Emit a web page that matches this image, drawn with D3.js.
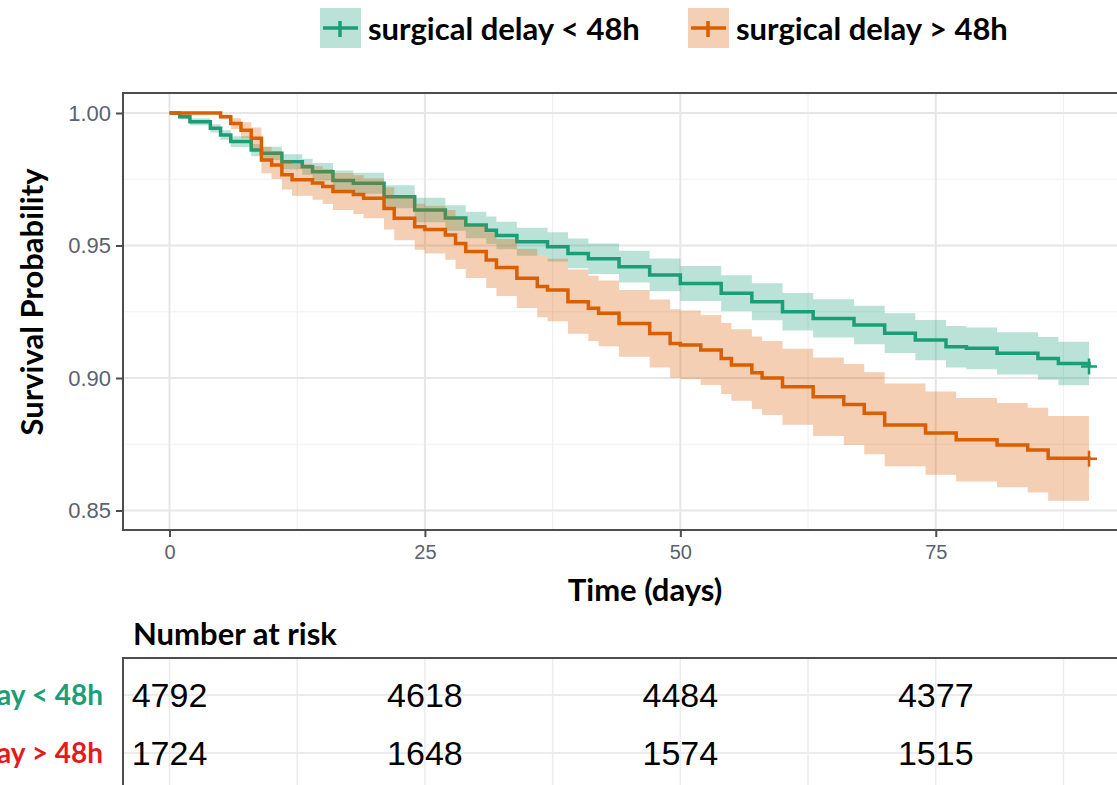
<!DOCTYPE html>
<html>
<head>
<meta charset="utf-8">
<script src="https://cdn.jsdelivr.net/npm/d3@7"></script>
<style>
  body { margin: 0; background: #fff; }
  svg { display: block; }
</style>
</head>
<body>
<svg id="chart" width="1117" height="785"></svg>
<script>
// Groups and colours
const groups = ["surgical delay < 48h", "surgical delay > 48h"];
const lineColors = ["#1b9e77", "#d95f02"];
const riskLabelColors = ["#1b9e77", "#e41a1c"];

// Kaplan-Meier estimate, surgical delay < 48h
const gTime = [0, 1, 2, 4, 5, 6, 8, 9, 11, 13, 14, 16, 18, 21, 24, 27, 29, 31, 32, 34, 37, 39, 41, 44, 47, 50, 54, 57, 60, 63, 67, 70, 73, 76, 78, 81, 85, 87, 90];
const gSurv = [1.000, 0.9986, 0.9967, 0.9942, 0.9917, 0.9892, 0.9860, 0.9848, 0.9816, 0.9797, 0.9778, 0.9745, 0.9735, 0.9684, 0.9634, 0.9604, 0.9577, 0.9558, 0.9538, 0.9514, 0.9495, 0.9470, 0.9450, 0.9420, 0.9389, 0.9357, 0.9320, 0.9288, 0.9250, 0.9225, 0.9200, 0.9169, 0.9143, 0.9118, 0.9112, 0.9093, 0.9074, 0.9055, 0.9043];
const gUpper = [1.000, 0.9996, 0.9980, 0.9958, 0.9935, 0.9912, 0.9883, 0.9873, 0.9844, 0.9827, 0.9811, 0.9783, 0.9775, 0.9727, 0.9680, 0.9652, 0.9627, 0.9609, 0.9590, 0.9567, 0.9550, 0.9526, 0.9508, 0.9480, 0.9451, 0.9423, 0.9388, 0.9358, 0.9321, 0.9297, 0.9273, 0.9244, 0.9219, 0.9196, 0.9191, 0.9173, 0.9155, 0.9137, 0.9126];
const gLower = [1.000, 0.9976, 0.9954, 0.9926, 0.9899, 0.9872, 0.9837, 0.9823, 0.9788, 0.9767, 0.9745, 0.9707, 0.9695, 0.9641, 0.9588, 0.9556, 0.9527, 0.9507, 0.9486, 0.9461, 0.9440, 0.9414, 0.9392, 0.9360, 0.9327, 0.9291, 0.9252, 0.9218, 0.9179, 0.9153, 0.9127, 0.9094, 0.9067, 0.9040, 0.9033, 0.9013, 0.8993, 0.8973, 0.8960];

// Kaplan-Meier estimate, surgical delay > 48h
const oTime = [0, 5, 6, 7, 8, 9, 10, 11, 12, 14, 15, 16, 18, 19, 21, 22, 24, 25, 27, 28, 29, 31, 32, 34, 36, 37, 39, 41, 42, 44, 47, 49, 50, 52, 54, 55, 57, 58, 60, 63, 66, 68, 70, 74, 77, 81, 84, 86, 90];
const oSurv = [1.000, 0.9986, 0.9960, 0.9935, 0.9905, 0.9823, 0.9804, 0.9767, 0.9748, 0.9736, 0.9723, 0.9704, 0.9692, 0.9678, 0.9640, 0.9603, 0.9571, 0.9560, 0.9540, 0.9508, 0.9477, 0.9445, 0.9417, 0.9376, 0.9345, 0.9332, 0.9288, 0.9263, 0.9244, 0.9206, 0.9168, 0.9130, 0.9125, 0.9106, 0.9074, 0.9049, 0.9020, 0.9000, 0.8967, 0.8929, 0.8900, 0.8867, 0.8823, 0.8792, 0.8767, 0.8747, 0.8728, 0.8697, 0.8695];
const oUpper = [1.000, 0.9994, 0.9980, 0.9965, 0.9945, 0.9873, 0.9857, 0.9823, 0.9808, 0.9799, 0.9789, 0.9774, 0.9765, 0.9753, 0.9720, 0.9686, 0.9658, 0.9650, 0.9634, 0.9605, 0.9577, 0.9550, 0.9525, 0.9488, 0.9461, 0.9450, 0.9409, 0.9386, 0.9368, 0.9332, 0.9296, 0.9259, 0.9255, 0.9238, 0.9208, 0.9184, 0.9157, 0.9140, 0.9110, 0.9077, 0.9053, 0.9022, 0.8979, 0.8949, 0.8925, 0.8906, 0.8888, 0.8857, 0.8855];
const oLower = [1.000, 0.9978, 0.9940, 0.9905, 0.9865, 0.9773, 0.9751, 0.9711, 0.9688, 0.9673, 0.9657, 0.9634, 0.9619, 0.9603, 0.9560, 0.9520, 0.9484, 0.9470, 0.9446, 0.9411, 0.9377, 0.9340, 0.9309, 0.9264, 0.9229, 0.9214, 0.9167, 0.9140, 0.9120, 0.9080, 0.9040, 0.9001, 0.8995, 0.8974, 0.8940, 0.8914, 0.8883, 0.8860, 0.8824, 0.8781, 0.8747, 0.8712, 0.8667, 0.8635, 0.8609, 0.8588, 0.8568, 0.8537, 0.8535];

// Axes and risk table
const xTicks = [0, 25, 50, 75];
const xMinor = [12.5, 37.5, 62.5, 87.5];
const yTicks = [0.85, 0.90, 0.95, 1.00];
const yMinor = [0.875, 0.925, 0.975];
const riskTimes = [0, 25, 50, 75];
const riskLow = [4792, 4618, 4484, 4377];
const riskHigh = [1724, 1648, 1574, 1515];

const labelFont = "Lato, 'Open Sans', sans-serif";
const tickFont = "'Liberation Sans', Arial, sans-serif";

const svg = d3.select("#chart");

// Panel geometry
const panel = { left: 123, top: 93, right: 1140, bottom: 530 };
const x = d3.scaleLinear().domain([-4.5, 94.5]).range([123.5, 1135]);
const y = d3.scaleLinear().domain([0.85, 1.0]).range([510.5, 113]);

svg.append("defs").append("clipPath").attr("id", "panel-clip")
  .append("rect")
  .attr("x", panel.left).attr("y", panel.top)
  .attr("width", panel.right - panel.left).attr("height", panel.bottom - panel.top);

// Gridlines
const grid = svg.append("g");
grid.selectAll("line.xminor").data(xMinor).join("line")
  .attr("x1", d => x(d)).attr("x2", d => x(d))
  .attr("y1", panel.top).attr("y2", panel.bottom)
  .attr("stroke", "#f0f0f0").attr("stroke-width", 1.2);
grid.selectAll("line.yminor").data(yMinor).join("line")
  .attr("y1", d => y(d)).attr("y2", d => y(d))
  .attr("x1", panel.left).attr("x2", panel.right)
  .attr("stroke", "#f0f0f0").attr("stroke-width", 1.2);
grid.selectAll("line.xmajor").data(xTicks).join("line")
  .attr("x1", d => x(d)).attr("x2", d => x(d))
  .attr("y1", panel.top).attr("y2", panel.bottom)
  .attr("stroke", "#e6e6e6").attr("stroke-width", 2);
grid.selectAll("line.ymajor").data(yTicks).join("line")
  .attr("y1", d => y(d)).attr("y2", d => y(d))
  .attr("x1", panel.left).attr("x2", panel.right)
  .attr("stroke", "#e6e6e6").attr("stroke-width", 2);

// Curves: ribbon then step line for each group
const series = [
  { time: gTime, surv: gSurv, upper: gUpper, lower: gLower },
  { time: oTime, surv: oSurv, upper: oUpper, lower: oLower }
];

const area = d3.area()
  .curve(d3.curveStepAfter)
  .x(d => x(d.t))
  .y0(d => y(d.lo))
  .y1(d => y(d.hi));

const line = d3.line()
  .curve(d3.curveStepAfter)
  .x(d => x(d.t))
  .y(d => y(d.s));

const plot = svg.append("g").attr("clip-path", "url(#panel-clip)");

series.forEach((s, i) => {
  const pts = s.time.map((t, k) => ({ t: t, s: s.surv[k], hi: s.upper[k], lo: s.lower[k] }));
  plot.append("path").datum(pts)
    .attr("d", area)
    .attr("fill", lineColors[i])
    .attr("fill-opacity", 0.3);
  plot.append("path").datum(pts)
    .attr("d", line)
    .attr("fill", "none")
    .attr("stroke", lineColors[i])
    .attr("stroke-width", 3.5);
  // censor mark at the end of follow-up
  const last = pts[pts.length - 1];
  const cx = x(last.t), cy = y(last.s);
  plot.append("path")
    .attr("d", `M${cx - 8},${cy}H${cx + 8}M${cx},${cy - 8}V${cy + 8}`)
    .attr("stroke", lineColors[i])
    .attr("stroke-width", 2.5);
});

// Panel border
svg.append("path")
  .attr("d", `M${panel.right},${panel.top}H${panel.left}V${panel.bottom}H${panel.right}`)
  .attr("fill", "none")
  .attr("stroke", "#4d4d4d")
  .attr("stroke-width", 2);

// Axes
const yAxis = svg.append("g")
  .attr("transform", `translate(${panel.left},0)`)
  .call(d3.axisLeft(y).tickValues(yTicks).tickFormat(d3.format(".2f")).tickSize(7).tickPadding(5));
const xAxis = svg.append("g")
  .attr("transform", `translate(0,${panel.bottom})`)
  .call(d3.axisBottom(x).tickValues(xTicks).tickSize(7).tickPadding(8));

[yAxis, xAxis].forEach(ax => {
  ax.select(".domain").remove();
  ax.selectAll(".tick line").attr("stroke", "#4d4d4d").attr("stroke-width", 2);
  ax.selectAll(".tick text")
    .attr("fill", "#5a6170")
    .style("font-family", tickFont);
});
yAxis.selectAll(".tick text").style("font-size", "22px");
xAxis.selectAll(".tick text").style("font-size", "20px");

// Axis titles
svg.append("text")
  .attr("transform", "translate(43,302) rotate(-90)")
  .attr("text-anchor", "middle")
  .style("font-family", labelFont)
  .style("font-weight", 700)
  .style("font-size", "31px")
  .attr("fill", "#000")
  .text("Survival Probability");

svg.append("text")
  .attr("x", 645).attr("y", 601)
  .attr("text-anchor", "middle")
  .style("font-family", labelFont)
  .style("font-weight", 700)
  .style("font-size", "31px")
  .attr("fill", "#000")
  .text("Time (days)");

// Legend
const legend = svg.append("g");
const legendX = [320, 688];
groups.forEach((g, i) => {
  const lg = legend.append("g").attr("transform", `translate(${legendX[i]},8)`);
  lg.append("rect")
    .attr("width", 41).attr("height", 40)
    .attr("fill", lineColors[i]).attr("fill-opacity", 0.3);
  lg.append("path")
    .attr("d", "M3,20H38M20,13V29")
    .attr("stroke", lineColors[i])
    .attr("stroke-width", 3.5);
  lg.append("text")
    .attr("x", 48).attr("y", 20)
    .attr("dominant-baseline", "central")
    .style("font-family", labelFont)
    .style("font-weight", 700)
    .style("font-size", "31px")
    .attr("fill", "#000")
    .text(g);
});

// Risk table
svg.append("text")
  .attr("x", 133).attr("y", 645)
  .style("font-family", labelFont)
  .style("font-weight", 700)
  .style("font-size", "31px")
  .attr("fill", "#000")
  .text("Number at risk");

const table = { top: 658, bottom: 800 };
const row = d3.scalePoint().domain(groups).range([695, 753]);

const tgrid = svg.append("g");
tgrid.selectAll("line.v").data(xTicks.concat(xMinor)).join("line")
  .attr("x1", d => x(d)).attr("x2", d => x(d))
  .attr("y1", table.top).attr("y2", table.bottom)
  .attr("stroke", "#ececec").attr("stroke-width", 1.5);
tgrid.selectAll("line.h").data(groups).join("line")
  .attr("x1", panel.left).attr("x2", panel.right)
  .attr("y1", d => row(d)).attr("y2", d => row(d))
  .attr("stroke", "#ececec").attr("stroke-width", 2);

svg.append("path")
  .attr("d", `M${panel.right},${table.top}H${panel.left}V${table.bottom}`)
  .attr("fill", "none")
  .attr("stroke", "#4d4d4d")
  .attr("stroke-width", 2);

const riskRows = [riskLow, riskHigh];
riskRows.forEach((vals, i) => {
  svg.append("g").selectAll("text").data(vals).join("text")
    .attr("x", (d, k) => x(riskTimes[k]))
    .attr("y", row(groups[i]))
    .attr("dy", "0.36em")
    .attr("text-anchor", "middle")
    .style("font-family", tickFont)
    .style("font-size", "34px")
    .attr("fill", "#000")
    .text(d => d);
  svg.append("text")
    .attr("x", 103)
    .attr("y", row(groups[i]))
    .attr("dy", "0.36em")
    .attr("text-anchor", "end")
    .style("font-family", labelFont)
    .style("font-weight", 700)
    .style("font-size", "28px")
    .attr("fill", riskLabelColors[i])
    .text(groups[i]);
});
</script>
</body>
</html>
